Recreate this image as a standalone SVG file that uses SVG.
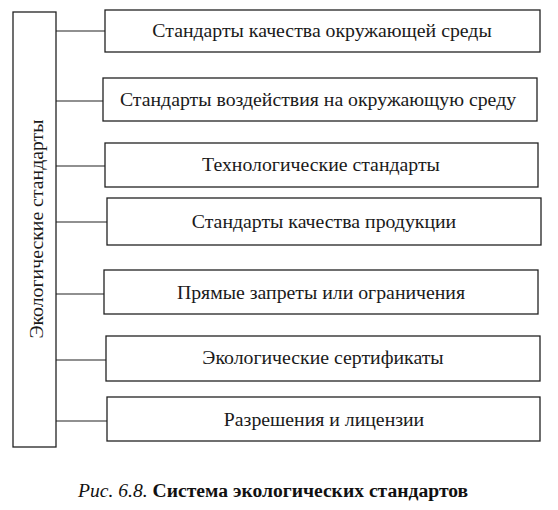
<svg xmlns="http://www.w3.org/2000/svg" width="558" height="510" viewBox="0 0 558 510">
<style>
.box{fill:#fff;stroke:#222;stroke-width:1.3}
.ln{stroke:#222;stroke-width:1.2;fill:none}
.t{font-family:'Liberation Serif','DejaVu Serif',serif;font-size:19.8px;fill:#1a1a1a;text-anchor:middle}
.cap{font-family:'Liberation Serif','DejaVu Serif',serif;font-size:19.6px;fill:#111}
</style>
<rect width="558" height="510" fill="#fff"/>
<g id="connectors">
<line class="ln" x1="56" y1="31" x2="105" y2="31"/>
<line class="ln" x1="56" y1="101" x2="103" y2="101"/>
<line class="ln" x1="56" y1="166" x2="105" y2="166"/>
<line class="ln" x1="56" y1="222" x2="107" y2="222"/>
<line class="ln" x1="56" y1="294" x2="104" y2="294"/>
<line class="ln" x1="56" y1="360" x2="106" y2="360"/>
<line class="ln" x1="56" y1="421" x2="107" y2="421"/>
</g>
<g id="root">
<rect class="box" x="13" y="12" width="43" height="435"/>
<text class="t" font-size="19.4" transform="translate(43,229) rotate(-90)">Экологические стандарты</text>
</g>
<g id="n1">
<rect class="box" x="105" y="10" width="435" height="42"/>
<text class="t" x="322" y="37">Стандарты качества окружающей среды</text>
</g>
<g id="n2">
<rect class="box" x="103" y="78" width="434" height="43"/>
<text class="t" x="318" y="106">Стандарты воздействия на окружающую среду</text>
</g>
<g id="n3">
<rect class="box" x="105" y="143" width="433" height="44"/>
<text class="t" x="321" y="171">Технологические стандарты</text>
</g>
<g id="n4">
<rect class="box" x="107" y="198" width="434" height="47"/>
<text class="t" x="324" y="228">Стандарты качества продукции</text>
</g>
<g id="n5">
<rect class="box" x="104" y="270" width="434" height="44"/>
<text class="t" x="321" y="299">Прямые запреты или ограничения</text>
</g>
<g id="n6">
<rect class="box" x="106" y="336" width="434" height="45"/>
<text class="t" x="323" y="364">Экологические сертификаты</text>
</g>
<g id="n7">
<rect class="box" x="107" y="397" width="433" height="44"/>
<text class="t" x="324" y="426">Разрешения и лицензии</text>
</g>
<text class="cap" x="78" y="497"><tspan font-style="italic">Рис. 6.8.</tspan> <tspan font-weight="bold">Система экологических стандартов</tspan></text>
</svg>
